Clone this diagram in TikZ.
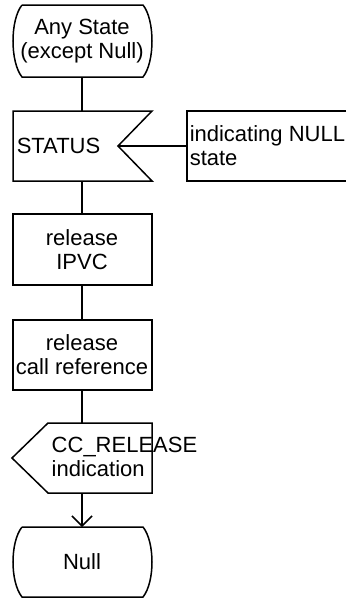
\documentclass[tikz,border=0pt]{standalone}
\usepackage{fontspec}
\setmainfont{Liberation Sans}
\usetikzlibrary{arrows.meta}
\begin{document}
\begin{tikzpicture}[x=1pt,y=-1pt,line width=1.5pt,
  txt/.style={font=\fontsize{22}{24}\selectfont, inner sep=0pt, align=center},
  ltxt/.style={txt, align=left, anchor=west},
  flow/.style={line width=1.5pt},
  arr/.style={flow, -{Straight Barb[length=10pt,width=20pt,line width=1.5pt]}}]
\useasboundingbox (0,0) rectangle (346,598);
% Any State
\draw (22,5) -- (143,5) .. controls (155,20) and (155,62) .. (143,77) -- (22,77) .. controls (10,62) and (10,20) .. (22,5);
\node[txt] (s0) at (82,41) {Any State\\(except Null)};
\coordinate (s0b) at (82,77);
% STATUS input
\draw (13,111) -- (152,111) -- (118,146) -- (152,181) -- (13,181) -- cycle;
\node[ltxt] (st) at (16,146) {STATUS};
\coordinate (stt) at (82,111);
\coordinate (stb) at (82,181);
\coordinate (stn) at (118,146);
% annotation
\draw (346,111) -- (187,111) -- (187,181) -- (346,181);
\node[ltxt] (an) at (189,146) {indicating NULL\\state};
\coordinate (anl) at (187,146);
% release IPVC
\draw (13,214) rectangle (152,285);
\node[txt] (t1) at (82,249.5) {release\\IPVC};
\coordinate (t1t) at (82,214);
\coordinate (t1b) at (82,285);
% release call reference
\draw (13,320) rectangle (152,390);
\node[txt] (t2) at (82,355) {release\\call reference};
\coordinate (t2t) at (82,320);
\coordinate (t2b) at (82,390);
% CC_RELEASE output
\draw (48,423) -- (152,423) -- (152,493) -- (48,493) -- (12,458) -- cycle;
\node[ltxt] (out) at (51,457) {CC\_RELEASE\\indication};
\coordinate (outt) at (82,423);
\coordinate (outb) at (82,493);
% Null
\draw (22,527) -- (143,527) .. controls (155,542) and (155,582) .. (143,597) -- (22,597) .. controls (10,582) and (10,542) .. (22,527);
\node[txt] (nl) at (82,562) {Null};
\coordinate (nlt) at (82,527);
% connectors
\draw[flow] (s0b) -- (stt);
\draw[flow] (stn) -- (anl);
\draw[flow] (stb) -- (t1t);
\draw[flow] (t1b) -- (t2t);
\draw[flow] (t2b) -- (outt);
\draw[arr] (outb) -- (nlt);
\end{tikzpicture}
\end{document}
